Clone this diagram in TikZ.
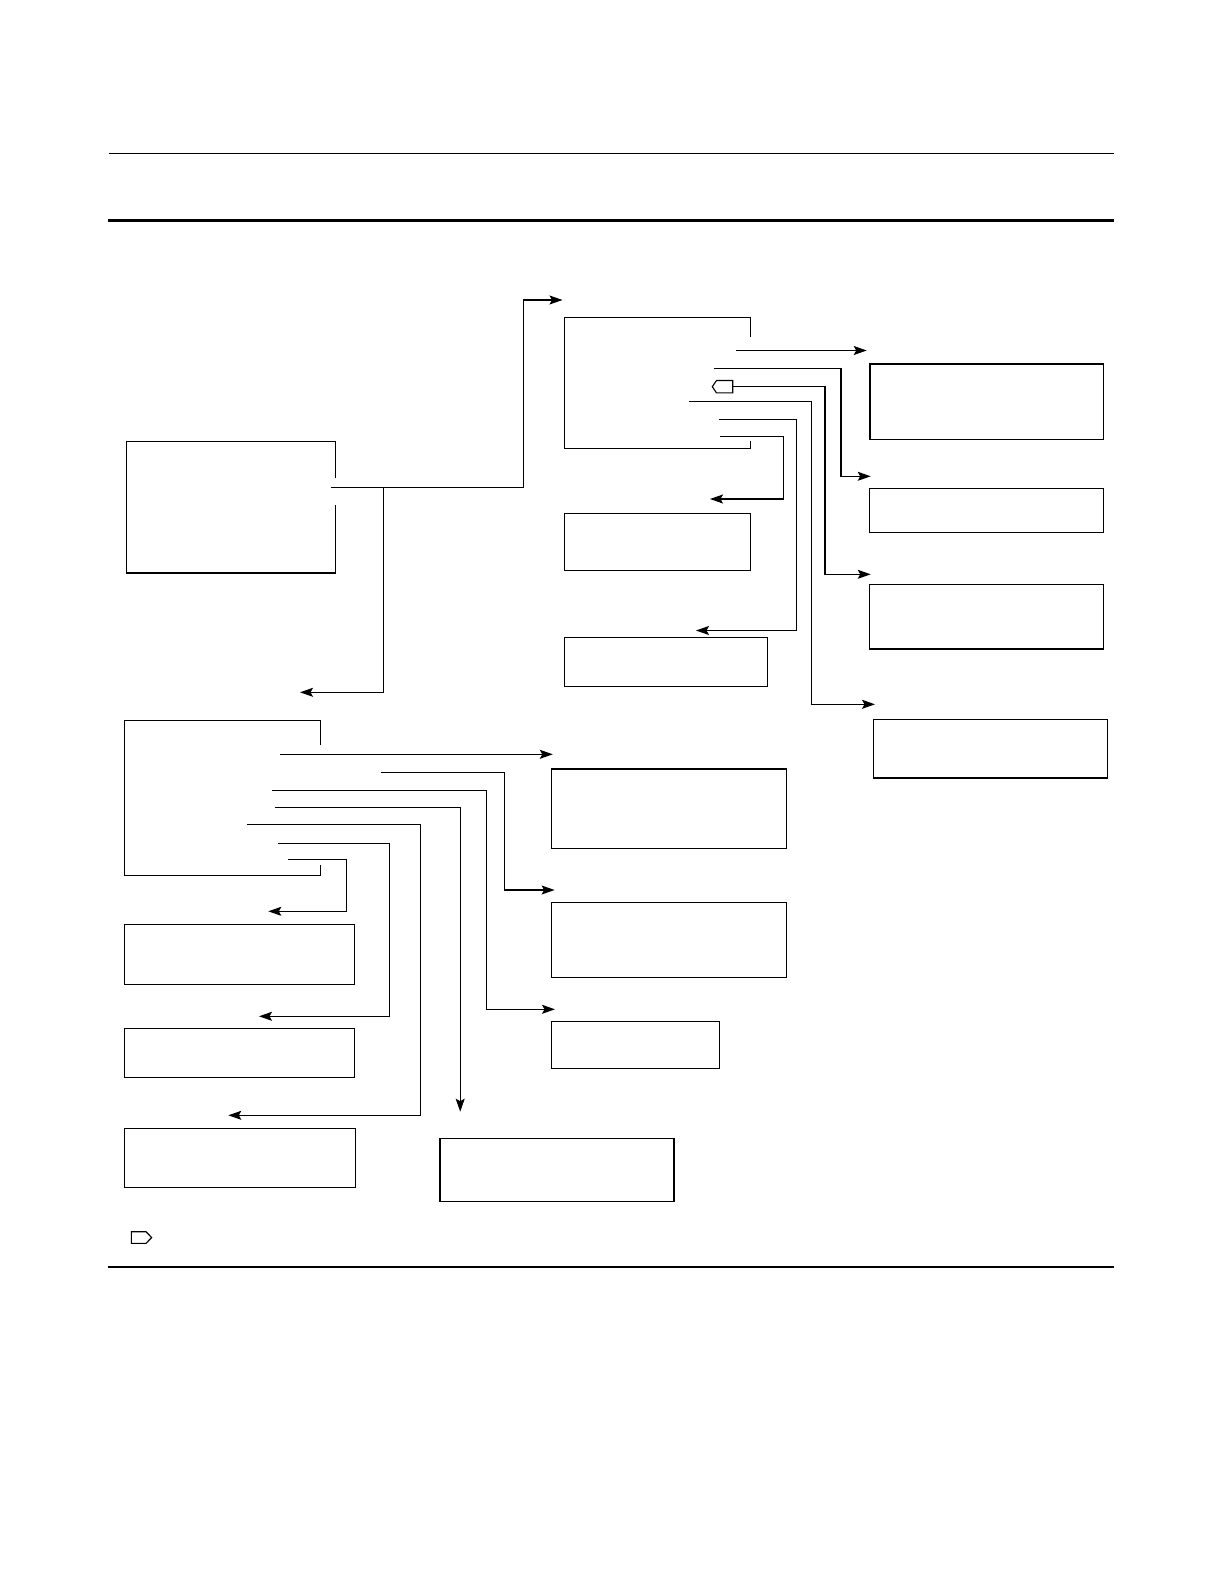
\documentclass[tikz,border=0pt]{standalone}
\usetikzlibrary{arrows.meta,fit}
\begin{document}
\begin{tikzpicture}[x=1pt,y=-1pt,line join=miter,
  box/.style={draw,line width=1.1pt,inner sep=0pt,outer sep=0pt},
  openbox/.style={inner sep=0pt,outer sep=0pt},
  wire/.style={line width=1.1pt},
  arr/.style={wire,-{Stealth[length=13pt,width=9pt,inset=2.5pt]}},
  rulethick/.style={line width=2.4pt},
  rulethin/.style={line width=1.2pt},
  tag/.style={line width=1.1pt}]
\useasboundingbox (0,0) rectangle (1224,1584);

% page rules
\coordinate (r1a) at (109,153.5); \coordinate (r1b) at (1114,153.5);
\coordinate (r2a) at (108,220.5);   \coordinate (r2b) at (1114,220.5);
\coordinate (r3a) at (108,1267);\coordinate (r3b) at (1114,1267);
\draw[rulethin] (r1a) -- (r1b);
\draw[rulethick] (r2a) -- (r2b);
\draw[rulethick] (r3a) -- (r3b);

% boxes with an opening on the right side
\node (A) [openbox,fit={(126.5,441.3)(335.5,573)}] {};
\draw[wire] (A.east |- 0,478.3) -- (A.north east) -- (A.north west) -- (A.south west) -- (A.south east) -- (A.east |- 0,505);
\node (B) [openbox,fit={(564.3,317.3)(750.3,448.3)}] {};
\draw[wire] (B.east |- 0,336.7) -- (B.north east) -- (B.north west) -- (B.south west) -- (B.south east) -- (B.east |- 0,441);
\node (E) [openbox,fit={(124.3,720.3)(320.7,875.3)}] {};
\draw[wire] (E.east |- 0,745) -- (E.north east) -- (E.north west) -- (E.south west) -- (E.south east) -- (E.east |- 0,865);

% closed boxes
\node (C1) [box,fit={(870,364)(1103.5,439.3)}] {};
\node (C2) [box,fit={(869.5,488.3)(1103.5,532.3)}] {};
\node (C3) [box,fit={(869.5,584.5)(1103.5,649)}] {};
\node (C4) [box,fit={(873.5,719.3)(1107.5,778)}] {};
\node (D1) [box,fit={(564.3,513.3)(750.7,570.3)}] {};
\node (D2) [box,fit={(564.3,637.3)(767.7,686.3)}] {};
\node (F1) [box,fit={(124.3,924.3)(354.7,984.3)}] {};
\node (F2) [box,fit={(124.3,1028.3)(354.7,1077.3)}] {};
\node (F3) [box,fit={(124.3,1128.3)(355.7,1187.3)}] {};
\node (G1) [box,fit={(551.7,769)(786.7,848.3)}] {};
\node (G2) [box,fit={(551.7,902.7)(786.7,977.7)}] {};
\node (G3) [box,fit={(551.7,1021.7)(719.7,1068.3)}] {};
\node (G4) [box,fit={(440,1138.3)(674,1201.7)}] {};

% connectors from A
\coordinate (aS) at (331,487.3);
\coordinate (aJ) at (383.3,487.3);
\coordinate (aT1) at (562.5,300);
\coordinate (aT2) at (300,692.3);
\draw[arr] (aS) -- (aJ) -- (523.3,487.3) |- (aT1);
\draw[arr] (aJ) |- (aT2);

% tag symbol on B
\coordinate (tagR) at (732.7,386.7);
\draw[tag] (tagR) ++(0,-6.2) -- (716.5,380.5) -- (712.3,386.7) -- (716.5,392.9) -- (732.7,392.9) -- cycle;

% connectors from B
\coordinate (b1s) at (736,350.5);   \coordinate (b1t) at (866.7,350.5);
\coordinate (b2s) at (714,368.3);   \coordinate (b2t) at (870.7,476.3);
\coordinate (b4s) at (689.3,401.3); \coordinate (b4t) at (875,704.3);
\coordinate (b5s) at (719,419.3);   \coordinate (b5t) at (696,630.5);
\coordinate (b6s) at (720,436.2);   \coordinate (b6t) at (710,499);
\coordinate (b3t) at (870.7,574.3);
\draw[arr] (b1s) -- (b1t);
\draw[arr] (b2s) -- (841,368.3) |- (b2t);
\draw[arr] (tagR) -- (825,386.7) |- (b3t);
\draw[arr] (b4s) -- (811.5,401.3) |- (b4t);
\draw[arr] (b5s) -- (796.3,419.3) |- (b5t);
\draw[arr] (b6s) -- (783.3,436.2) |- (b6t);

% connectors from E
\coordinate (e1s) at (280.3,754.3); \coordinate (e1t) at (552.8,754.3);
\coordinate (e2s) at (381,772.3);   \coordinate (e2t) at (554.6,890);
\coordinate (e3s) at (272.3,790.3); \coordinate (e3t) at (555,1009.3);
\coordinate (e4s) at (275,807.3);   \coordinate (e4t) at (460.2,1111.7);
\coordinate (e5s) at (247.3,824.3); \coordinate (e5t) at (228.3,1115.3);
\coordinate (e6s) at (278,843.3);   \coordinate (e6t) at (259,1016.3);
\coordinate (e7s) at (288,859.3);   \coordinate (e7t) at (268.3,911.3);
\draw[arr] (e1s) -- (e1t);
\draw[arr] (e2s) -- (504.3,772.3) |- (e2t);
\draw[arr] (e3s) -- (486.7,790.3) |- (e3t);
\draw[arr] (e4s) -| (e4t);
\draw[arr] (e5s) -- (420.7,824.3) |- (e5t);
\draw[arr] (e6s) -- (389.3,843.3) |- (e6t);
\draw[arr] (e7s) -- (346.7,859.3) |- (e7t);

% legend tag
\coordinate (legL) at (131.3,1231.7);
\draw[tag] (legL) -- (146,1231.7) -- (151.7,1237.5) -- (146,1243.3) -- (131.3,1243.3) -- cycle;
\end{tikzpicture}
\end{document}
